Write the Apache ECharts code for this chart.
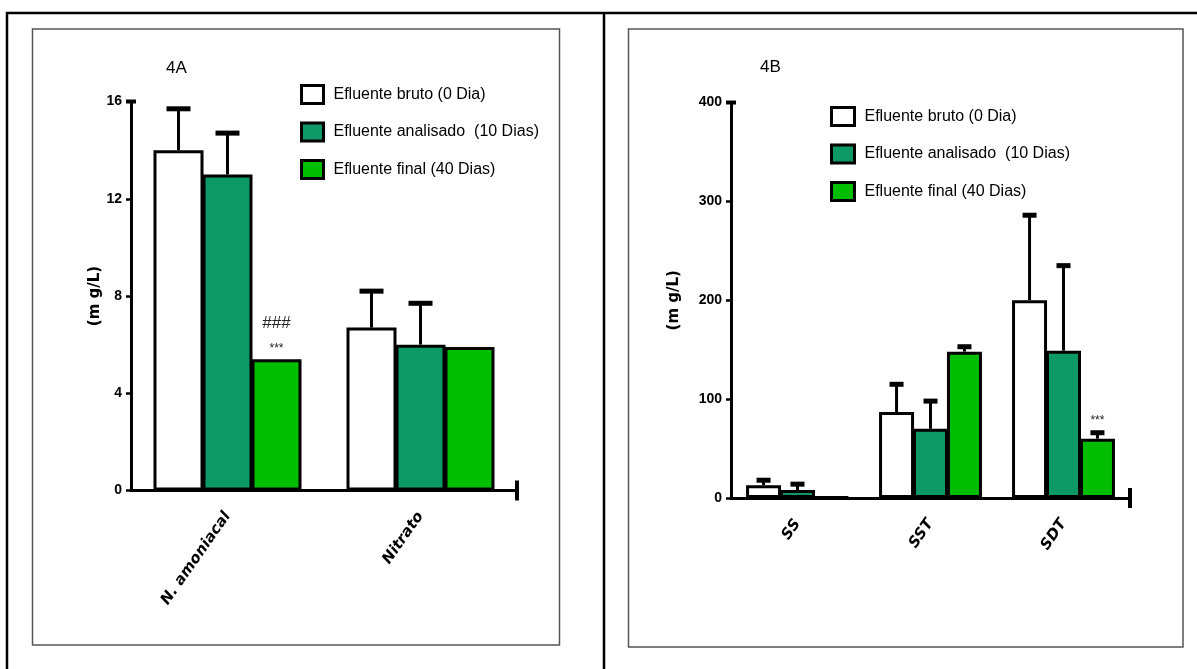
<!DOCTYPE html>
<html>
<head>
<meta charset="utf-8">
<script src="https://cdn.jsdelivr.net/npm/echarts@6/dist/echarts.min.js"></script>
<style>
  html, body { margin: 0; padding: 0; background: #fff; }
  #chart { width: 1197px; height: 669px; }
</style>
</head>
<body>
<div id="chart"></div>
<script>
// panel 4A
const catsA = ['N. amoniacal', 'Nitrato'];
const brutoA = [14.0, 6.7];
const brutoSdA = [1.7, 1.5];
const analisadoA = [13.0, 6.0];
const analisadoSdA = [1.7, 1.7];
const finalA = [5.4, 5.9];
const finalSdA = [0, 0];
const hashA = ['###', ''];
const starsA = ['***', ''];

// panel 4B
const catsB = ['SS', 'SST', 'SDT'];
const brutoB = [13, 87, 200];
const brutoSdB = [5, 28, 86];
const analisadoB = [8, 70, 149];
const analisadoSdB = [6, 28, 86];
const finalB = [1, 148, 60];
const finalSdB = [0, 5, 6];
const starsB = ['', '', '***'];

const names = ['Efluente bruto (0 Dia)', 'Efluente analisado  (10 Dias)', 'Efluente final (40 Dias)'];
const colors = ['#ffffff', '#0d9966', '#00bd00'];

const narrow = '"Liberation Sans Narrow", "Arial Narrow", "Liberation Sans", sans-serif';

const chart = echarts.init(document.getElementById('chart'));

function barSeries(name, color, data, idx, barW, gap) {
  return {
    name: name,
    type: 'bar',
    xAxisIndex: idx,
    yAxisIndex: idx,
    data: data,
    barWidth: barW,
    barGap: gap,
    itemStyle: { color: color, borderColor: '#000', borderWidth: 3 },
    z: 2
  };
}

// error bars + significance marks, placed on the same slot as the bar
function errSeries(means, sds, slot, idx, barW, gapRatio, capW, hash, stars) {
  return {
    type: 'custom',
    xAxisIndex: idx,
    yAxisIndex: idx,
    z: 3,
    silent: true,
    data: means.map((m, i) => [i, m, sds[i]]),
    renderItem: function (params, api) {
      const i = params.dataIndex;
      const mean = api.value(1);
      const sd = api.value(2);
      const total = 3 * barW + 2 * barW * gapRatio;
      const base = api.coord([api.value(0), 0]);
      const cx = base[0] - total / 2 + slot * barW * (1 + gapRatio) + barW / 2;
      const yMean = api.coord([api.value(0), mean])[1];
      const yTop = api.coord([api.value(0), mean + sd])[1];
      const children = [];
      if (sd > 0) {
        children.push({
          type: 'line',
          shape: { x1: cx, y1: yMean, x2: cx, y2: yTop },
          style: { stroke: '#000', lineWidth: 3 }
        });
        children.push({
          type: 'rect',
          shape: { x: cx - capW / 2, y: yTop - 2.5, width: capW, height: 5 },
          style: { fill: '#000' }
        });
      }
      const top = sd > 0 ? yTop - 3 : yMean - 2;
      if (stars && stars[i]) {
        children.push({
          type: 'text',
          style: { text: stars[i], x: cx, y: top - 3, align: 'center', verticalAlign: 'bottom',
                   fontSize: 12, fill: '#222', fontFamily: 'Liberation Sans, sans-serif' }
        });
      }
      if (hash && hash[i]) {
        children.push({
          type: 'text',
          style: { text: hash[i], x: cx, y: top - 25, align: 'center', verticalAlign: 'bottom',
                   fontSize: 17, fill: '#222', fontFamily: 'Liberation Sans, sans-serif' }
        });
      }
      return { type: 'group', children: children };
    }
  };
}

const axisLineStyle = { color: '#000', width: 3 };
const tickLabel = { color: '#000', fontWeight: 'bold', fontSize: 14, fontFamily: narrow, margin: 9 };
const catLabel = { color: '#000', fontWeight: 'bold', fontStyle: 'italic', fontSize: 15, rotate: 55,
                   fontFamily: '"DejaVu Sans", sans-serif', margin: 23 };
const legendText = { color: '#000', fontSize: 16, fontFamily: narrow, padding: [0, 0, 0, 5] };
const yName = { fontWeight: 'bold', fontSize: 15, color: '#000', fontFamily: '"DejaVu Sans", sans-serif' };

const option = {
  animation: false,
  backgroundColor: '#fff',
  title: [
    { text: '4A', left: 166, top: 60, padding: 0, textStyle: { fontSize: 17, fontWeight: 'normal', color: '#000', fontFamily: narrow } },
    { text: '4B', left: 760, top: 59, padding: 0, textStyle: { fontSize: 17, fontWeight: 'normal', color: '#000', fontFamily: narrow } }
  ],
  legend: [
    {
      data: names, left: 300, top: 84, orient: 'vertical', itemGap: 16.5, padding: 0, icon: 'rect',
      itemWidth: 22, itemHeight: 18, textStyle: legendText,
      itemStyle: { borderColor: '#000', borderWidth: 3 },
      selectedMode: false
    },
    {
      data: names, left: 830, top: 106, orient: 'vertical', itemGap: 16.5, padding: 0, icon: 'rect',
      itemWidth: 23, itemHeight: 18, textStyle: legendText,
      itemStyle: { borderColor: '#000', borderWidth: 3 },
      selectedMode: false
    }
  ],
  grid: [
    { left: 131, top: 101.5, width: 386, height: 389 },
    { left: 731, top: 102.5, width: 399, height: 395.5 }
  ],
  xAxis: [
    {
      type: 'category', gridIndex: 0, data: catsA,
      axisLine: { lineStyle: axisLineStyle, symbol: ['none', 'rect'], symbolSize: [20, 4] },
      axisTick: { alignWithLabel: true, length: 6, lineStyle: { width: 2.5, color: '#000' } },
      axisLabel: catLabel
    },
    {
      type: 'category', gridIndex: 1, data: catsB,
      axisLine: { lineStyle: axisLineStyle, symbol: ['none', 'rect'], symbolSize: [20, 4] },
      axisTick: { alignWithLabel: true, length: 6, lineStyle: { width: 2.5, color: '#000' } },
      axisLabel: catLabel
    }
  ],
  yAxis: [
    {
      type: 'value', gridIndex: 0, min: 0, max: 16, interval: 4,
      name: '(m g/L)', nameLocation: 'middle', nameRotate: 90, nameGap: 28,
      nameTextStyle: yName,
      axisLine: { show: true, lineStyle: axisLineStyle, symbol: ['none', 'rect'], symbolSize: [10, 4] },
      axisTick: { show: true, length: 5, lineStyle: { width: 2.5, color: '#000' } },
      axisLabel: tickLabel,
      splitLine: { show: false }
    },
    {
      type: 'value', gridIndex: 1, min: 0, max: 400, interval: 100,
      name: '(m g/L)', nameLocation: 'middle', nameRotate: 90, nameGap: 49,
      nameTextStyle: yName,
      axisLine: { show: true, lineStyle: axisLineStyle, symbol: ['none', 'rect'], symbolSize: [10, 4] },
      axisTick: { show: true, length: 5, lineStyle: { width: 2.5, color: '#000' } },
      axisLabel: tickLabel,
      splitLine: { show: false }
    }
  ],
  graphic: [
    // page frame
    { type: 'line', shape: { x1: 6, y1: 13, x2: 1197, y2: 13 }, style: { stroke: '#000', lineWidth: 2.5 }, silent: true },
    { type: 'line', shape: { x1: 7, y1: 12, x2: 7, y2: 669 }, style: { stroke: '#000', lineWidth: 2.5 }, silent: true },
    { type: 'line', shape: { x1: 604, y1: 12, x2: 604, y2: 669 }, style: { stroke: '#000', lineWidth: 2.5 }, silent: true },
    // panel boxes
    { type: 'rect', shape: { x: 32.5, y: 29, width: 527, height: 616 }, style: { fill: null, stroke: '#555', lineWidth: 1.5 }, silent: true, z: -1 },
    { type: 'rect', shape: { x: 628.5, y: 29, width: 554.5, height: 618 }, style: { fill: null, stroke: '#555', lineWidth: 1.5 }, silent: true, z: -1 }
  ],
  series: [
    barSeries(names[0], colors[0], brutoA, 0, 50, '-2%'),
    barSeries(names[1], colors[1], analisadoA, 0, 50, '-2%'),
    barSeries(names[2], colors[2], finalA, 0, 50, '-2%'),
    errSeries(brutoA, brutoSdA, 0, 0, 50, -0.02, 24),
    errSeries(analisadoA, analisadoSdA, 1, 0, 50, -0.02, 24),
    errSeries(finalA, finalSdA, 2, 0, 50, -0.02, 24, hashA, starsA),
    barSeries(names[0], colors[0], brutoB, 1, 35, '-3%'),
    barSeries(names[1], colors[1], analisadoB, 1, 35, '-3%'),
    barSeries(names[2], colors[2], finalB, 1, 35, '-3%'),
    errSeries(brutoB, brutoSdB, 0, 1, 35, -0.03, 14),
    errSeries(analisadoB, analisadoSdB, 1, 1, 35, -0.03, 14),
    errSeries(finalB, finalSdB, 2, 1, 35, -0.03, 14, null, starsB)
  ]
};

chart.setOption(option);
</script>
</body>
</html>
